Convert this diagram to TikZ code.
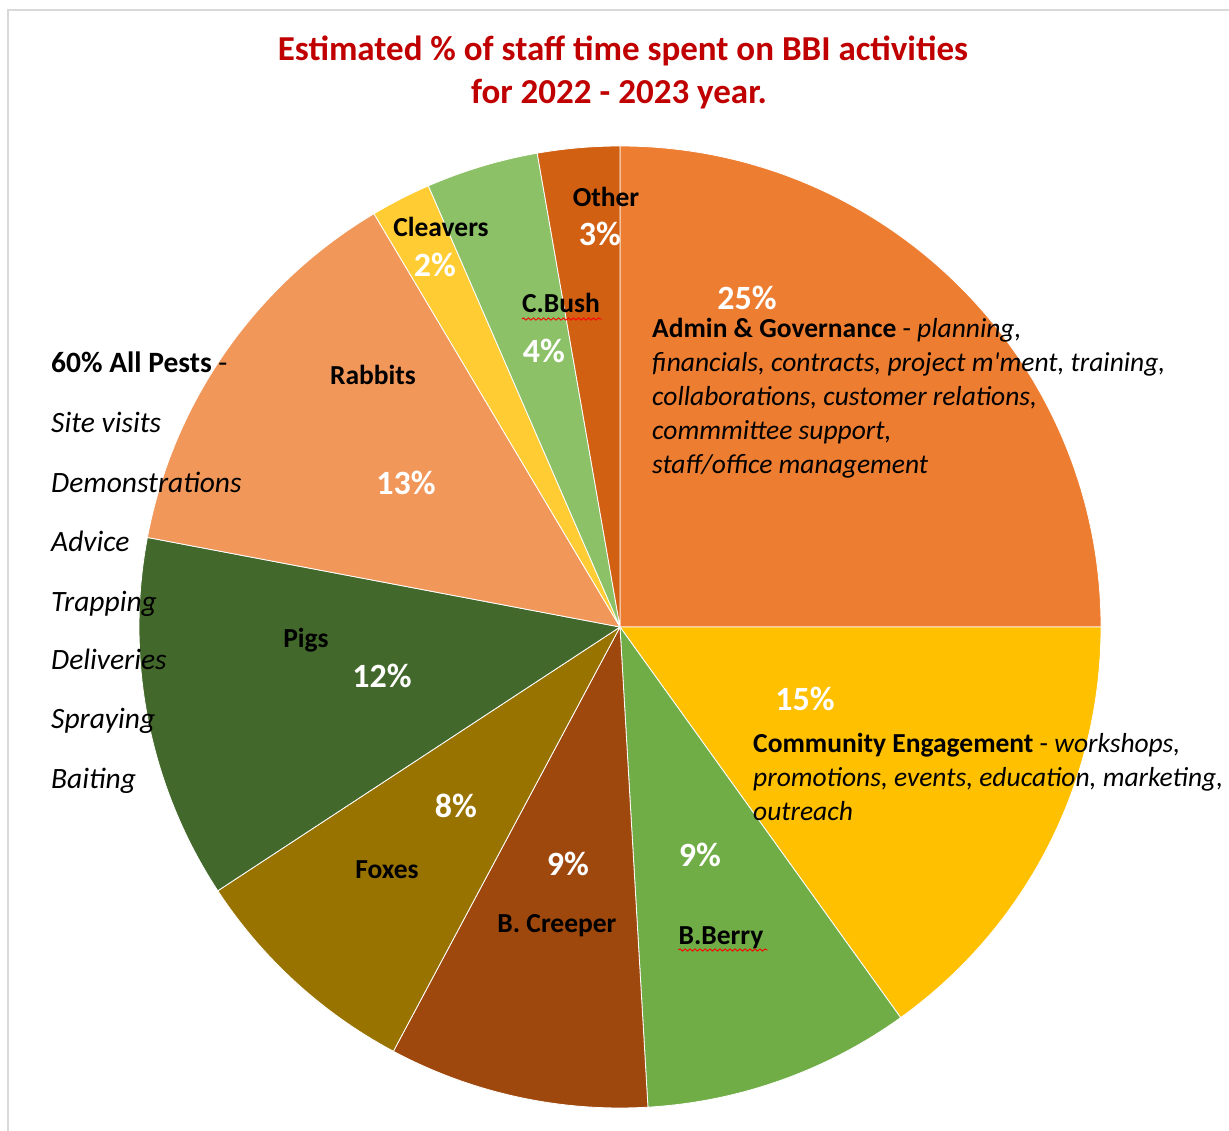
\documentclass[tikz,border=0pt]{standalone}
\usepackage{fontspec}
\setmainfont{Carlito}[Ligatures=TeXOff]
\usetikzlibrary{decorations.pathmorphing}
\definecolor{cAdmin}{HTML}{ED7D31}
\definecolor{cComm}{HTML}{FFC000}
\definecolor{cBerry}{HTML}{70AD47}
\definecolor{cCreeper}{HTML}{9E480E}
\definecolor{cFoxes}{HTML}{997300}
\definecolor{cPigs}{HTML}{43682B}
\definecolor{cRabbits}{HTML}{F1975A}
\definecolor{cCleavers}{HTML}{FFCD33}
\definecolor{cCBush}{HTML}{8CC168}
\definecolor{cOther}{HTML}{D26012}
\definecolor{titlered}{HTML}{C00000}
\definecolor{framegray}{HTML}{D9D9D9}
\def\pieR{481}
\newcommand{\pieslice}[3]{%
  \filldraw[slice, fill=#1] (c) -- ++(-#2:\pieR) arc[start angle=-#2, end angle=-#3, radius=\pieR] -- cycle;}
\begin{document}
\begin{tikzpicture}[x=1pt,y=-1pt,
  slice/.style={draw=white, line width=0.8pt, line join=round},
  pct/.style={text=white, font=\fontsize{34}{41}\selectfont\bfseries, anchor=base, inner sep=0pt},
  lbl/.style={text=black, font=\fontsize{27.5}{33}\selectfont\bfseries, anchor=base, inner sep=0pt},
  desc/.style={text=black, font=\fontsize{27.5}{33}\selectfont, anchor=base west, inner sep=0pt},
  pest/.style={text=black, font=\fontsize{29.5}{35}\selectfont, anchor=base west, inner sep=0pt},
  ttl/.style={text=titlered, font=\fontsize{35}{43}\selectfont\bfseries, anchor=base, inner sep=0pt},
  squig/.style={draw=red, line width=0.9pt, decorate, decoration={snake, amplitude=1.1pt, segment length=5pt}}
]
\useasboundingbox (0,0) rectangle (1229,1131);
\fill[white] (0,0) rectangle (1229,1131);
\draw[framegray, line width=1.5pt] (8,1131) -- (8,10) -- (1229,10);

% title
\node[ttl] (title1) at (623,61) {Estimated \% of staff time spent on BBI activities};
\node[ttl] (title2) at (619,104) {for 2022 - 2023 year.};

% pie
\coordinate (c) at (620,627);
\pieslice{cAdmin}{90}{0}
\pieslice{cComm}{0}{-54.3}
\pieslice{cBerry}{-54.3}{-86.67}
\pieslice{cCreeper}{-86.67}{-118.11}
\pieslice{cFoxes}{-118.11}{-146.74}
\pieslice{cPigs}{-146.74}{-190.73}
\pieslice{cRabbits}{-190.73}{-239.24}
\pieslice{cCleavers}{-239.24}{-246.52}
\pieslice{cCBush}{-246.52}{-260.09}
\pieslice{cOther}{-260.09}{-270}

% percentages
\node[pct] (p25) at (747,310) {25\%};
\node[pct] (p15) at (805,710) {15\%};
\node[pct] (p9b) at (700,866) {9\%};
\node[pct] (p9c) at (568,875) {9\%};
\node[pct] (p8) at (456,817) {8\%};
\node[pct] (p12) at (382,687) {12\%};
\node[pct] (p13) at (406,494) {13\%};
\node[pct] (p2) at (435,277) {2\%};
\node[pct] (p4) at (544,363) {4\%};
\node[pct] (p3) at (600,246) {3\%};

% slice labels
\node[lbl] (lOther) at (606,207) {Other};
\node[lbl] (lCleavers) at (441,237) {Cleavers};
\node[lbl] (lCBush) at (561,313) {C.Bush};
\node[lbl] (lRabbits) at (373,385) {Rabbits};
\node[lbl] (lPigs) at (306,647) {Pigs};
\node[lbl] (lFoxes) at (387,878) {Foxes};
\node[lbl] (lCreeper) at (557,932) {B. Creeper};
\node[lbl] (lBerry) at (721,944) {B.Berry};
\draw[squig] ([yshift=-6pt]lCBush.base west) -- ([yshift=-6pt,xshift=2pt]lCBush.base east);
\draw[squig] ([yshift=-6pt]lBerry.base west) -- ([yshift=-6pt,xshift=4pt]lBerry.base east);

% admin description
\node[desc] (a1) at (652,338) {\textbf{Admin \& Governance} - \textit{planning,}};
\node[desc] (a2) at (652,372) {\textit{financials, contracts, project m'ment, training,}};
\node[desc] (a3) at (652,406) {\textit{collaborations, customer relations,}};
\node[desc] (a4) at (652,439) {\textit{commmittee support,}};
\node[desc] (a5) at (652,473) {\textit{staff/office management}};

% community description
\node[desc] (ce1) at (753,752) {\textbf{Community Engagement} - \textit{workshops,}};
\node[desc] (ce2) at (753,786) {\textit{promotions, events, education, marketing,}};
\node[desc] (ce3) at (753,820) {\textit{outreach}};

% pests list
\node[pest] (l0) at (51,373) {\textbf{60\% All Pests} -};
\node[pest] (l1) at (51,432) {\textit{Site visits}};
\node[pest] (l2) at (51,492) {\textit{Demonstrations}};
\node[pest] (l3) at (51,551) {\textit{Advice}};
\node[pest] (l4) at (51,611) {\textit{Trapping}};
\node[pest] (l5) at (51,669) {\textit{Deliveries}};
\node[pest] (l6) at (51,728) {\textit{Spraying}};
\node[pest] (l7) at (51,788) {\textit{Baiting}};
\end{tikzpicture}
\end{document}
